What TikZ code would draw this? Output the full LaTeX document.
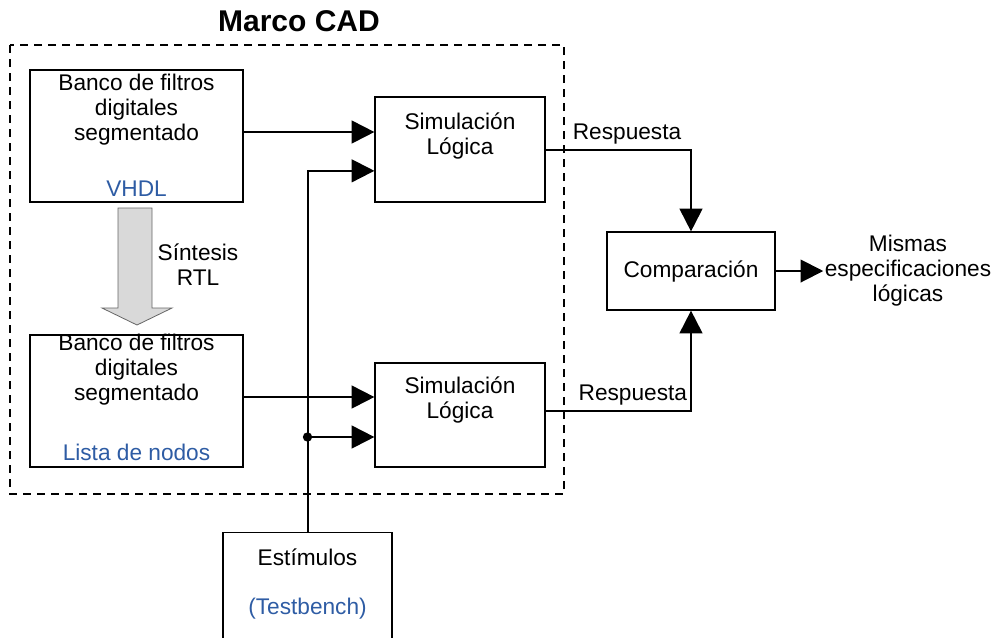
\documentclass[tikz,border=0pt]{standalone}
\usepackage{fontspec}
\setmainfont{Liberation Sans}
\usepackage{tikz}
\usetikzlibrary{arrows.meta,positioning,calc}
\definecolor{lblblue}{RGB}{46,92,164}
\definecolor{flowgray}{RGB}{217,217,217}
\newcommand{\boxFont}{\fontsize{17}{18.75}\selectfont}

\begin{document}
\begin{tikzpicture}[x=0.75pt, y=-0.75pt,
	every node/.style={font=\boxFont},
	blockbox/.style={draw, line width=0.9pt, inner sep=0pt},
	wire/.style={line width=1.5pt},
	arr/.style={wire, -{Triangle[length=17pt, width=17pt]}}]
	\useasboundingbox (0,0) rectangle (995,637);
		% marco
		\draw[dashed, line width=0.8pt, dash pattern=on 6pt off 4.5pt] (10,45) rectangle (564,494);
		\node[font=\fontsize{22.5}{26}\selectfont\bfseries] (marco) at (299,21) {Marco CAD};
		% bancos de filtros
		\node[blockbox, minimum width=159.75pt, minimum height=99pt] (filtA) at (136.5,136) {};
		\node[align=center] (filtAtxt) at (136.5,110) {Banco de filtros\\digitales\\segmentado};
		\node[text=lblblue] (vhdl) at (136.5,189) {VHDL};
		\node[blockbox, minimum width=159.75pt, minimum height=99pt] (filtB) at (136.5,401) {};
		\node[align=center] (filtBtxt) at (136.5,370) {Banco de filtros\\digitales\\segmentado};
		\node[text=lblblue] (nodos) at (136.5,452) {Lista de nodos};
		% sintesis
		\filldraw[fill=flowgray, draw=black!60, line width=0.6pt]
			(118,208) -- (152,208) -- (152,308) -- (172,308) -- (137,325) -- (102,308) -- (118,308) -- cycle;
		\node[align=center] (sintesis) at (198,265) {Síntesis\\RTL};
		% simulaciones
		\node[blockbox, minimum width=127.5pt, minimum height=78.75pt] (simA) at (460,149.5) {};
		\node[align=center] (simAtxt) at (460,135.5) {Simulación\\Lógica};
		\node[blockbox, minimum width=127.5pt, minimum height=78pt] (simB) at (460,415) {};
		\node[align=center] (simBtxt) at (460,400) {Simulación\\Lógica};
		% comparacion
		\node[blockbox, minimum width=126pt, minimum height=58.5pt] (comp) at (691,271) {Comparación};
		\node[align=center, inner sep=1pt] (salida) at (908,271) {Mismas\\especificaciones\\lógicas};
		% estimulos
		\node[blockbox, minimum width=126.75pt, minimum height=80pt] (estim) at (307.5,586) {};
		\node (estimtxt) at (307.5,557) {Estímulos};
		\node[text=lblblue] (testbench) at (307.5,609) {(Testbench)};
		% conexiones
		\coordinate (inA) at ([yshift=-16pt]simA.west);
		\coordinate (inB) at ([yshift=-16.5pt]simB.west);
		\draw[arr] ([yshift=3pt]filtA.east) -- ([yshift=3pt]filtA.east -| simA.west);
		\draw[arr] ([yshift=3pt]filtB.east) -- ([yshift=3pt]filtB.east -| simB.west);
		\draw[arr] (estim.north) |- (inA);
		\draw[arr] (estim.north |- inB) -- (inB);
		\fill (estim.north |- inB) circle (3.5pt);
		\draw[arr] (simA.east) -| node[pos=0.28, above=0pt] {Respuesta} (comp.north);
		\draw[arr] ([yshift=3pt]simB.east) -| node[pos=0.3, above=0pt] {Respuesta} (comp.south);
		\draw[arr] (comp.east) -- (salida.west);
\end{tikzpicture}
\end{document}
